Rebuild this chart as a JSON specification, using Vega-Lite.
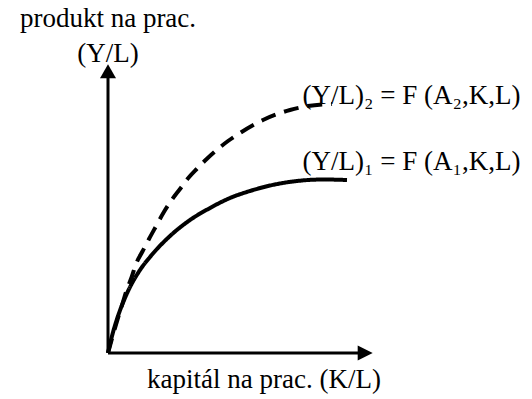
{
  "$schema": "https://vega.github.io/schema/vega-lite/v6.json",
  "width": 532,
  "height": 399,
  "autosize": {"type": "fit", "contains": "padding"},
  "padding": 0,
  "background": "white",
  "config": {"view": {"stroke": null}},
  "datasets": {
    "curves": [
      {"series": "A1", "x": 0, "y": 0},
      {"series": "A1", "x": 4, "y": 17},
      {"series": "A1", "x": 8.7, "y": 33},
      {"series": "A1", "x": 18.7, "y": 59},
      {"series": "A1", "x": 32, "y": 83},
      {"series": "A1", "x": 42, "y": 96},
      {"series": "A1", "x": 62, "y": 117},
      {"series": "A1", "x": 82, "y": 133},
      {"series": "A1", "x": 102, "y": 145},
      {"series": "A1", "x": 122, "y": 155},
      {"series": "A1", "x": 142, "y": 162},
      {"series": "A1", "x": 160, "y": 167},
      {"series": "A1", "x": 189, "y": 172},
      {"series": "A1", "x": 215, "y": 173.5},
      {"series": "A1", "x": 239, "y": 173},
      {"series": "A2", "x": 0, "y": 0},
      {"series": "A2", "x": 5, "y": 18},
      {"series": "A2", "x": 10.3, "y": 36},
      {"series": "A2", "x": 14.7, "y": 50},
      {"series": "A2", "x": 18.7, "y": 63},
      {"series": "A2", "x": 23.7, "y": 76},
      {"series": "A2", "x": 28, "y": 89},
      {"series": "A2", "x": 34.7, "y": 102},
      {"series": "A2", "x": 41, "y": 114},
      {"series": "A2", "x": 48.7, "y": 128},
      {"series": "A2", "x": 55.3, "y": 140},
      {"series": "A2", "x": 63.7, "y": 153},
      {"series": "A2", "x": 72, "y": 164},
      {"series": "A2", "x": 80.3, "y": 175},
      {"series": "A2", "x": 88.7, "y": 184},
      {"series": "A2", "x": 98.7, "y": 194},
      {"series": "A2", "x": 108.7, "y": 203},
      {"series": "A2", "x": 120, "y": 212},
      {"series": "A2", "x": 132, "y": 220},
      {"series": "A2", "x": 155, "y": 233},
      {"series": "A2", "x": 182, "y": 243},
      {"series": "A2", "x": 200, "y": 247},
      {"series": "A2", "x": 224, "y": 249}
    ],
    "axes": [
      {"x": 0, "y": 0, "x2": 0, "y2": 278},
      {"x": 0, "y": 0, "x2": 252, "y2": 0}
    ],
    "arrowUp": [{"x": 0, "y": 281.7}],
    "arrowRight": [{"x": 257.2, "y": 0}],
    "labels": [
      {"x": 0, "y": 326, "text": "produkt na prac."},
      {"x": 0, "y": 291, "text": "(Y/L)"},
      {"x": 303.5, "y": 249, "text": "(Y/L)₂ = F (A₂,K,L)"},
      {"x": 303.5, "y": 183.5, "text": "(Y/L)₁ = F (A₁,K,L)"},
      {"x": 156, "y": -35, "text": "kapitál na prac. (K/L)"}
    ]
  },
  "encoding": {
    "x": {"field": "x", "type": "quantitative", "axis": null, "scale": {"domain": [-108, 424], "nice": false, "zero": false}},
    "y": {"field": "y", "type": "quantitative", "axis": null, "scale": {"domain": [-46, 353], "nice": false, "zero": false}}
  },
  "layer": [
    {
      "data": {"name": "axes"},
      "mark": {"type": "rule", "color": "black", "strokeWidth": 3},
      "encoding": {
        "x2": {"field": "x2"},
        "y2": {"field": "y2"}
      }
    },
    {
      "data": {"name": "arrowUp"},
      "mark": {"type": "point", "shape": "M0,-0.875L1,0.875L-1,0.875Z", "size": 256, "filled": true, "color": "black", "opacity": 1, "strokeWidth": 0}
    },
    {
      "data": {"name": "arrowRight"},
      "mark": {"type": "point", "shape": "M0.9375,0L-0.9375,-0.9375L-0.9375,0.9375Z", "size": 256, "filled": true, "color": "black", "opacity": 1, "strokeWidth": 0}
    },
    {
      "data": {"name": "curves"},
      "mark": {"type": "line", "color": "black", "strokeWidth": 4, "interpolate": "monotone", "strokeCap": "butt"},
      "encoding": {
        "detail": {"field": "series"},
        "strokeDash": {"field": "series", "type": "nominal", "scale": {"domain": ["A1", "A2"], "range": [[1, 0], [15, 9]]}, "legend": null}
      }
    },
    {
      "data": {"name": "labels"},
      "mark": {"type": "text", "font": "Liberation Serif", "fontSize": 27, "color": "black", "align": "center", "baseline": "alphabetic"},
      "encoding": {
        "text": {"field": "text"}
      }
    }
  ]
}
